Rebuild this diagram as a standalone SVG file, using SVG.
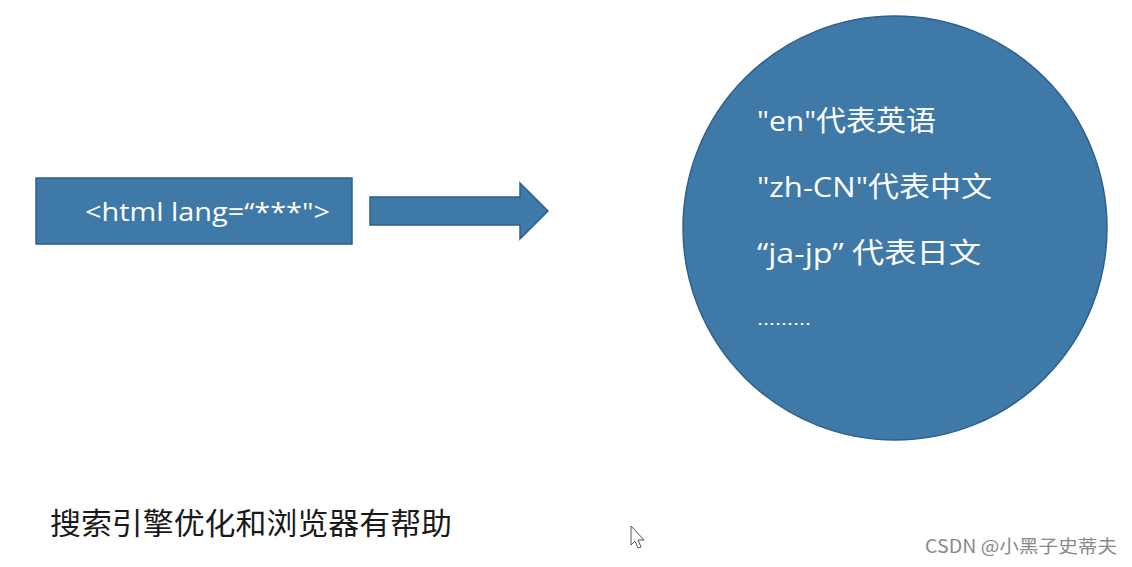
<svg xmlns="http://www.w3.org/2000/svg" width="1132" height="567" viewBox="0 0 1132 567">
<style>
.shape{fill:#3f79a8;stroke:#2f5f8c;stroke-width:1.5}
.w{fill:#ffffff;font-family:"Open Sans","Noto Sans","Noto Sans CJK SC",sans-serif}
.cn{font-family:"Noto Sans CJK SC",sans-serif}
</style>
<rect width="1132" height="567" fill="#ffffff"/>
<g id="node-html">
<rect class="shape" x="36" y="178" width="316" height="66"/>
<text class="w" x="85" y="221" font-size="26" textLength="245" lengthAdjust="spacingAndGlyphs">&lt;html lang=“***"&gt;</text>
</g>
<g id="connectors">
<polygon class="shape" points="370,197 520,197 520,183 548,211 520,239 520,225 370,225"/>
</g>
<g id="node-circle">
<circle class="shape" cx="895" cy="228" r="212"/>
<text class="w" x="757" y="131" font-size="28" textLength="179" lengthAdjust="spacingAndGlyphs">"en"代表英语</text>
<text class="w" x="757" y="197" font-size="28" textLength="235" lengthAdjust="spacingAndGlyphs">"zh-CN"代表中文</text>
<text class="w" x="757" y="263" font-size="28" textLength="224" lengthAdjust="spacingAndGlyphs">“ja-jp”  代表日文</text>
<text class="w" x="757" y="325" font-size="16" textLength="54" lengthAdjust="spacingAndGlyphs">………</text>
</g>
<g id="caption">
<text class="cn" x="50" y="534" font-size="30" fill="#1a1a1a" textLength="402" lengthAdjust="spacingAndGlyphs">搜索引擎优化和浏览器有帮助</text>
</g>
<g id="watermark">
<text class="cn" x="925" y="553" font-size="18" fill="#8a8a8a" textLength="192" lengthAdjust="spacingAndGlyphs">CSDN @小黑子史蒂夫</text>
</g>
<polygon points="631,526 631,545 635,541 638,548 641,547 638,540 644,540" fill="#ffffff" stroke="#555555" stroke-width="1"/>
</svg>
